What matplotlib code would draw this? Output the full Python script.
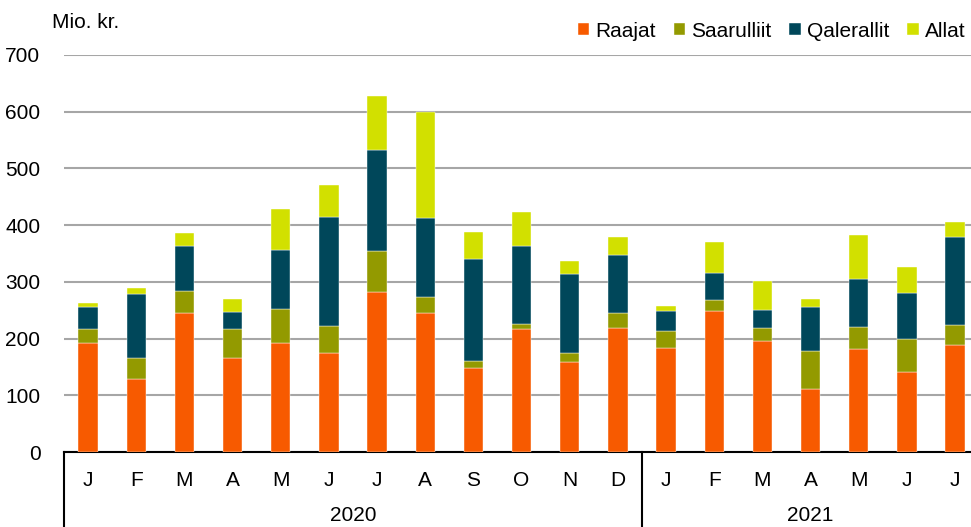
import matplotlib.pyplot as plt
import numpy as np
from matplotlib.transforms import blended_transform_factory

plt.rcParams['font.family'] = ['Liberation Sans', 'DejaVu Sans']

maaneder = ['J', 'F', 'M', 'A', 'M', 'J', 'J', 'A', 'S', 'O', 'N', 'D',
            'J', 'F', 'M', 'A', 'M', 'J', 'J']
aar = ['2020', '2021']
aar_antal = [12, 7]

raajat = [193, 128, 245, 166, 193, 175, 282, 245, 148, 217, 158, 218,
          183, 249, 196, 111, 181, 141, 188]
saarulliit = [24, 38, 39, 50, 60, 47, 73, 29, 12, 9, 16, 27,
              31, 19, 23, 67, 39, 58, 36]
qalerallit = [39, 112, 80, 31, 104, 193, 178, 139, 180, 137, 140, 103,
              34, 47, 32, 77, 85, 82, 155]
allat = [7, 12, 23, 22, 72, 56, 94, 187, 48, 60, 22, 31,
         10, 56, 50, 14, 78, 45, 26]

serier = {'Raajat': raajat, 'Saarulliit': saarulliit,
          'Qalerallit': qalerallit, 'Allat': allat}
farver = ['#F75A00', '#939A00', '#00475A', '#D2E000']

fig = plt.figure(figsize=(9.71, 5.27), dpi=100)
ax = fig.add_axes([64 / 971, 75 / 527, 1 - 64 / 971, 397 / 527])

x = np.arange(len(maaneder))
bund = np.zeros(len(maaneder))
for (navn, vaerdier), farve in zip(serier.items(), farver):
    ax.bar(x, vaerdier, width=0.4, bottom=bund, color=farve, label=navn,
           edgecolor='white', linewidth=0.3, zorder=3)
    bund += np.array(vaerdier)

ax.set_ylim(0, 700)
ax.set_xlim(-0.5, 18.33)
ax.set_yticks(range(0, 701, 100))
ax.yaxis.grid(True, color='#A6A6A6', linewidth=1.5, zorder=0)
for s in ['left', 'right', 'top']:
    ax.spines[s].set_visible(False)
ax.spines['bottom'].set_color('black')
ax.spines['bottom'].set_linewidth(1.5)
ax.tick_params(axis='y', length=0, labelsize=15, pad=17)
ax.set_xticks(x)
ax.set_xticklabels(maaneder)
ax.tick_params(axis='x', length=0, labelsize=15, pad=14)

# aarstal og skillelinjer under aksen
trans = blended_transform_factory(ax.transData, ax.transAxes)
start = 0
for navn, n in zip(aar, aar_antal):
    ax.plot([start - 0.5, start - 0.5], [0, -0.19], transform=trans,
            color='black', linewidth=1.5, clip_on=False)
    ax.text(start + (n - 1) / 2, -0.16, navn, transform=trans,
            ha='center', va='center', fontsize=15)
    start += n

fig.text(52 / 971, 1 - 22 / 527, 'Mio. kr.', fontsize=15, va='center')
fig.legend(loc='upper right', bbox_to_anchor=(1.003, 0.975), ncol=4,
           frameon=False, fontsize=15, handlelength=0.55, handleheight=0.55,
           handletextpad=0.3, columnspacing=0.85, borderaxespad=0)

fig.savefig('out.png', dpi=100)
